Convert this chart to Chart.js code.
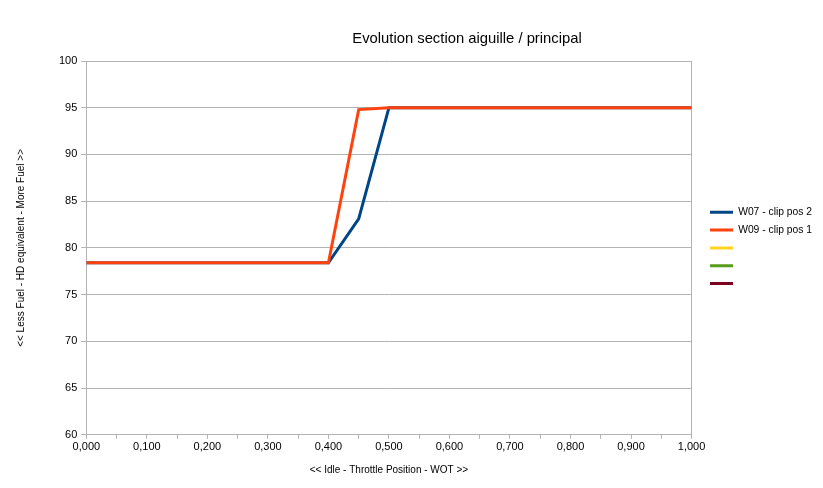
<!DOCTYPE html>
<html>
<head>
<meta charset="utf-8">
<script src="https://cdn.jsdelivr.net/npm/chart.js@4"></script>
<style>
  body { margin: 0; background: #fff; }
  #wrap { width: 823px; height: 488px; }
</style>
</head>
<body>
<div id="wrap"><canvas id="myChart" width="823" height="488"></canvas></div>
<script>
// data
var throttle = [0, 0.1, 0.2, 0.3, 0.4, 0.45, 0.5, 0.6, 0.7, 0.8, 0.9, 1.0];
var w07 = [78.4, 78.4, 78.4, 78.4, 78.4, 83.1, 95, 95, 95, 95, 95, 95];
var w09 = [78.4, 78.4, 78.4, 78.4, 78.4, 94.8, 95, 95, 95, 95, 95, 95];
var seriesNames = ['W07 - clip pos 2', 'W09 - clip pos 1', '', '', ''];
var colors = ['#004586', '#ff420e', '#ffd320', '#579d1c', '#7e0021'];
var titleText = 'Evolution section aiguille / principal';

var font = "'Liberation Sans', Arial, sans-serif";
var gridColor = '#b3b3b3';

function pts(ys) {
    return ys.map(function (y, i) { return { x: throttle[i], y: y }; });
}

var seriesData = [pts(w07), pts(w09), [], [], []];

var datasets = seriesNames.map(function (name, i) {
    return {
        label: name,
        data: seriesData[i],
        borderColor: colors[i],
        backgroundColor: colors[i],
        borderWidth: 3,
        pointRadius: 0,
        tension: 0,
        order: 5 - i,        // later series drawn on top, like the original
        yAxisID: 'y'
    };
});

// title sits off-centre in the original, so draw it by hand
var titlePlugin = {
    id: 'titlePlugin',
    afterDraw: function (chart) {
        var ctx = chart.ctx;
        ctx.save();
        ctx.fillStyle = '#000';
        ctx.font = '14.8px ' + font;
        ctx.textAlign = 'center';
        ctx.textBaseline = 'middle';
        ctx.fillText(titleText, 467, 39);
        ctx.restore();
    }
};

var myChart = new Chart(document.getElementById('myChart'), {
    type: 'line',
    data: { datasets: datasets },
    plugins: [titlePlugin],
    options: {
        responsive: false,
        animation: false,
        layout: { padding: { top: 61, right: 1, left: 15, bottom: 12 } },
        plugins: {
            title: { display: false },
            tooltip: { enabled: false },
            legend: {
                position: 'right',
                fullSize: false,
                labels: {
                    boxWidth: 23,
                    boxHeight: 3,
                    padding: 7.5,
                    color: '#000',
                    font: { family: font, size: 10.3 },
                    sort: function (a, b) { return a.datasetIndex - b.datasetIndex; },
                    generateLabels: function (chart) {
                        var items = Chart.defaults.plugins.legend.labels.generateLabels(chart);
                        items.forEach(function (it) { it.lineWidth = 0; });
                        return items;
                    }
                }
            }
        },
        scales: {
            x: {
                type: 'linear',
                min: 0,
                max: 1,
                title: {
                    display: true,
                    text: '<< Idle - Throttle Position - WOT >>',
                    color: '#000',
                    font: { family: font, size: 10 },
                    padding: { top: 8, bottom: 0 }
                },
                ticks: {
                    stepSize: 0.05,
                    autoSkip: false,
                    maxRotation: 0,
                    color: '#000',
                    font: { family: font, size: 11 },
                    padding: 2,
                    callback: function (v) {
                        if (Math.round(v * 20) % 2 !== 0) return '';
                        return v.toFixed(3).replace('.', ',');
                    }
                },
                grid: { drawOnChartArea: false, color: gridColor, tickLength: 4 },
                border: { color: gridColor }
            },
            y: {
                min: 60,
                max: 100,
                title: {
                    display: true,
                    text: '<< Less Fuel - HD equivalent - More Fuel >>',
                    color: '#000',
                    font: { family: font, size: 10 },
                    padding: { top: 0, bottom: 28 }
                },
                ticks: {
                    stepSize: 5,
                    color: '#000',
                    font: { family: font, size: 11 },
                    padding: 4
                },
                grid: { color: gridColor, tickLength: 5 },
                border: { color: gridColor }
            },
            // empty right axis: gives the frame its right edge and the gap before the legend
            yRight: {
                position: 'right',
                min: 60,
                max: 100,
                ticks: { display: false },
                grid: { drawOnChartArea: false, drawTicks: false },
                border: { color: gridColor },
                afterFit: function (scale) { scale.width = 11; }
            }
        }
    }
});
</script>
</body>
</html>
